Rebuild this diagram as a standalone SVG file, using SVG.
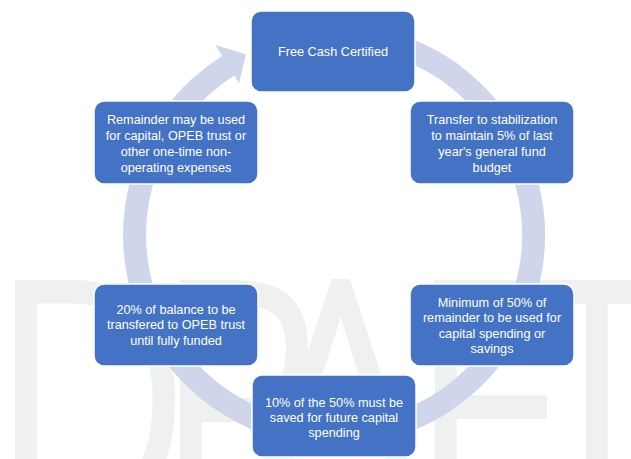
<svg xmlns="http://www.w3.org/2000/svg" width="631" height="459" viewBox="0 0 631 459">
  <style>
    .wm { font-family: "Open Sans", "Lato", "DejaVu Sans", sans-serif; font-weight: 300; font-size: 330px; fill: #EFF1F0; stroke: #EFF1F0; stroke-width: 9; stroke-linejoin: miter; }
    .box { fill: #4472C4; stroke: #FFFFFF; stroke-width: 1.5; }
    .lbl { font-family: "Liberation Sans", Arial, sans-serif; font-size: 12.7px; fill: #FFFFFF; text-anchor: middle; }
    .ring { fill: #CFD5EA; }
  </style>
  <rect x="0" y="0" width="631" height="459" fill="#FFFFFF"/>
  <g id="watermark" transform="scale(0.85 1)">
    <text class="wm" x="-11" y="520">D</text>
    <text class="wm" x="183" y="520">R</text>
    <text class="wm" x="400" y="520" text-anchor="middle">A</text>
    <text class="wm" x="483" y="520">F</text>
    <text class="wm" x="702.4" y="520" text-anchor="middle">T</text>
  </g>
  <g id="connectors">
    <path class="ring" d="M 352.4 24.8 A 211 211 0 1 1 222.2 56.1 L 215.3 45.0 L 245.9 54.3 L 239.1 83.2 L 234.4 75.6 A 188 188 0 1 0 350.4 47.7 Z"/>
  </g>
  <g id="node-free-cash">
    <rect class="box" x="251" y="11" width="164" height="81" rx="10"/>
    <text class="lbl" x="333" y="56">Free Cash Certified</text>
  </g>
  <g id="node-stabilization">
    <rect class="box" x="410" y="101" width="164" height="83" rx="10"/>
    <text class="lbl" x="492" y="124">Transfer to stabilization</text>
    <text class="lbl" x="492" y="140">to maintain 5% of last</text>
    <text class="lbl" x="492" y="156">year's general fund</text>
    <text class="lbl" x="492" y="172">budget</text>
  </g>
  <g id="node-minimum">
    <rect class="box" x="410" y="284" width="164" height="82" rx="10"/>
    <text class="lbl" x="492" y="307">Minimum of 50% of</text>
    <text class="lbl" x="492" y="322">remainder to be used for</text>
    <text class="lbl" x="492" y="338">capital spending or</text>
    <text class="lbl" x="492" y="353">savings</text>
  </g>
  <g id="node-ten-percent">
    <rect class="box" x="252" y="375" width="164" height="82" rx="10"/>
    <text class="lbl" x="334" y="407">10% of the 50% must be</text>
    <text class="lbl" x="334" y="422">saved for future capital</text>
    <text class="lbl" x="334" y="437">spending</text>
  </g>
  <g id="node-opeb">
    <rect class="box" x="94" y="284" width="164" height="82" rx="10"/>
    <text class="lbl" x="176" y="314">20% of balance to be</text>
    <text class="lbl" x="176" y="329">transfered to OPEB trust</text>
    <text class="lbl" x="176" y="345">until fully funded</text>
  </g>
  <g id="node-remainder">
    <rect class="box" x="94" y="101" width="164" height="83" rx="10"/>
    <text class="lbl" x="176" y="124">Remainder may be used</text>
    <text class="lbl" x="176" y="140">for capital, OPEB trust or</text>
    <text class="lbl" x="176" y="156">other one-time non-</text>
    <text class="lbl" x="176" y="172">operating expenses</text>
  </g>
</svg>
